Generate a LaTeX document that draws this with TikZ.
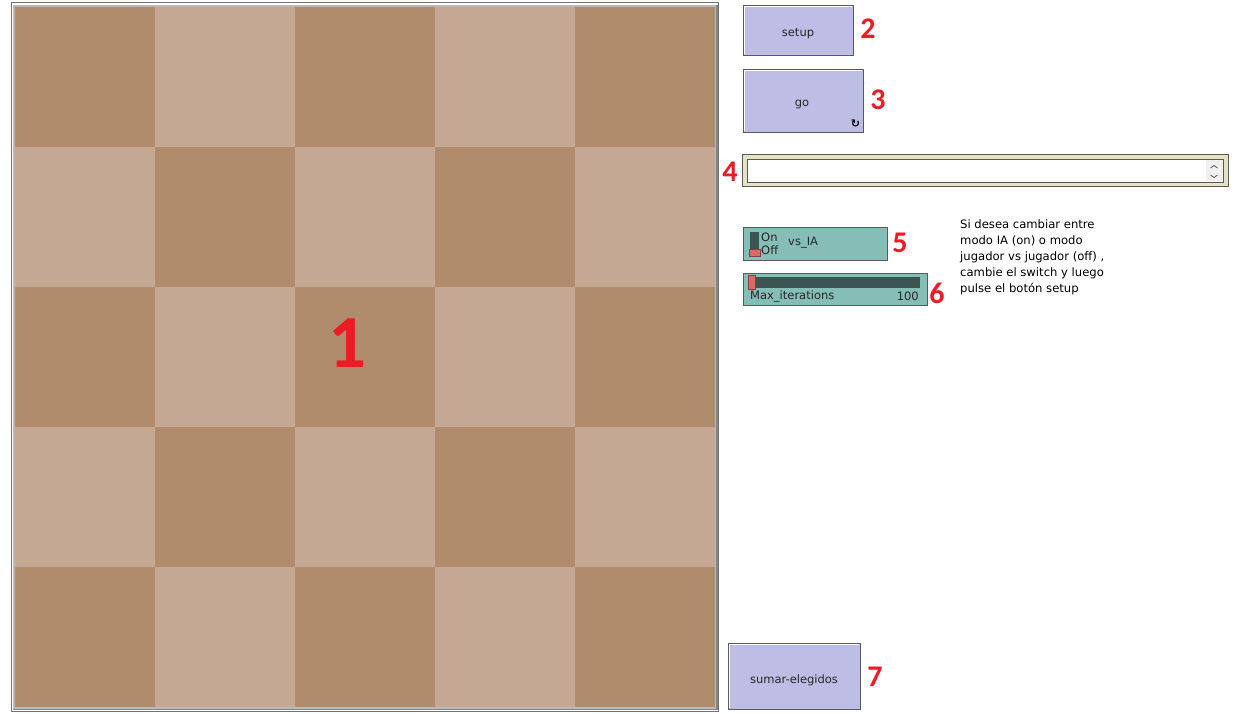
\documentclass[tikz,border=0pt]{standalone}
\usepackage{fontspec}
\setmainfont{DejaVu Sans}
\newfontfamily\numfont{Carlito}
\definecolor{sqdark}{HTML}{B08C6C}
\definecolor{sqlight}{HTML}{C4A893}
\definecolor{btn}{HTML}{BEBDE5}
\definecolor{teal}{HTML}{84BEB7}
\definecolor{numred}{HTML}{ED1C24}
\definecolor{beige}{HTML}{E4E4C4}
\definecolor{track}{HTML}{3E5450}
\definecolor{knob}{HTML}{D86A6A}
\tikzset{
  num/.style={font=\numfont\bfseries\fontsize{30}{30}\selectfont, text=numred, inner sep=0pt},
  ui/.style={font=\fontsize{11.5}{13}\selectfont, inner sep=0pt, text=black!85},
  widget/.style={draw=gray!70!black, line width=1.2pt},
  chev/.style={draw=black!60, line width=0.9pt},
}
\begin{document}
\begin{tikzpicture}[x=1pt,y=-1pt]
\useasboundingbox (0,0) rectangle (1244,714);
\fill[white] (0,0) rectangle (1244,714);
% board frame
\draw[gray!90!black, line width=1pt] (11.5,2.5) rectangle (718.5,711.5);
\fill[gray!55] (13,5) rectangle (717,710);
\fill[gray!40!black!60] (716,5) rectangle (717.5,710);
\fill[gray!40!black!60] (13,708.5) rectangle (717.5,710);
% squares
\foreach \i in {0,...,4}{
  \foreach \j in {0,...,4}{
    \pgfmathtruncatemacro{\p}{mod(\i+\j,2)}
    \ifnum\p=0
      \fill[sqdark] (15+140*\i,7+140*\j) rectangle (155+140*\i,147+140*\j);
    \else
      \fill[sqlight] (15+140*\i,7+140*\j) rectangle (155+140*\i,147+140*\j);
    \fi
  }
}
\node[num, font=\numfont\bfseries\fontsize{75}{75}\selectfont] (n1) at (348,343) {1};

% setup button
\node[widget, fill=btn, minimum width=110pt, minimum height=50pt, anchor=north west] (setup) at (743,5) {};
\draw[white, line width=1pt] (744.5,54) -- (744.5,6.5) -- (852,6.5);
\node[ui] (setuplbl) at (798,33.5) {setup};
\node[num] (n2) at (868,29) {2};

% go button
\node[widget, fill=btn, minimum width=120pt, minimum height=63pt, anchor=north west] (go) at (743,69) {};
\draw[white, line width=1pt] (744.5,131) -- (744.5,70.5) -- (862,70.5);
\node[ui] (golbl) at (802,104) {go};
\node[font=\fontsize{11}{11}\selectfont\bfseries, inner sep=0pt] (goicon) at (855.5,124) {\symbol{"21BB}};
\node[num] (n3) at (878,100) {3};

% chooser
\node[draw=gray!70!black, line width=1.2pt, fill=beige, minimum width=486pt, minimum height=32pt, anchor=north west, inner sep=0pt] (chooser) at (742,154) {};
\node[draw=gray!70!black, line width=1pt, fill=white, minimum width=476pt, minimum height=23pt, anchor=north west, inner sep=0pt] (chooserin) at (747,159) {};
\fill[gray!12] (1206,160) rectangle (1222.5,181.5);
\coordinate (upc) at (1214,165.5);
\coordinate (dnc) at (1214,177.5);
\draw[chev] ([shift={(-3.5,2.5)}]upc) -- (upc) -- ([shift={(3.5,2.5)}]upc);
\draw[chev] ([shift={(-3.5,-2.5)}]dnc) -- (dnc) -- ([shift={(3.5,-2.5)}]dnc);
\node[num] (n4) at (730,172) {4};

% switch
\node[widget, fill=teal, minimum width=144pt, minimum height=33pt, anchor=north west] (switch) at (743,227) {};
\fill[track] (750,232) rectangle (759,250);
\fill[knob, draw=knob!60!black] (749,249) rectangle (760,256);
\node[ui, anchor=west, font=\fontsize{11.5}{11}\selectfont] (on) at (761,237.5) {On};
\node[ui, anchor=west, font=\fontsize{11.5}{11}\selectfont] (off) at (761,250.5) {Off};
\node[ui, anchor=west] (vsia) at (788,242.5) {vs\_IA};
\node[num] (n5) at (900,243) {5};

% slider
\node[widget, fill=teal, minimum width=184pt, minimum height=32pt, anchor=north west] (slider) at (743,273) {};
\fill[track] (749,277) rectangle (920,288);
\fill[knob, draw=knob!60!black] (748,275) rectangle (755,289);
\node[ui, anchor=west] (maxit) at (750,296) {Max\_iterations};
\node[ui, anchor=east] (val) at (919,296) {100};
\node[num] (n6) at (937,293) {6};

% note
\node[ui, anchor=north west, align=left, font=\fontsize{11.6}{16}\selectfont, text=black] (note) at (960,219.5)
  {Si desea cambiar entre\\modo IA (on) o modo\\jugador vs jugador (off) ,\\cambie el switch y luego\\pulse el botón setup};

% sumar-elegidos
\node[widget, fill=btn, minimum width=132pt, minimum height=66pt, anchor=north west] (sumar) at (728,643) {};
\draw[white, line width=1pt] (729.5,708) -- (729.5,644.5) -- (859,644.5);
\node[ui] (sumarlbl) at (794,680.5) {sumar-elegidos};
\node[num] (n7) at (875,677) {7};
\end{tikzpicture}
\end{document}
